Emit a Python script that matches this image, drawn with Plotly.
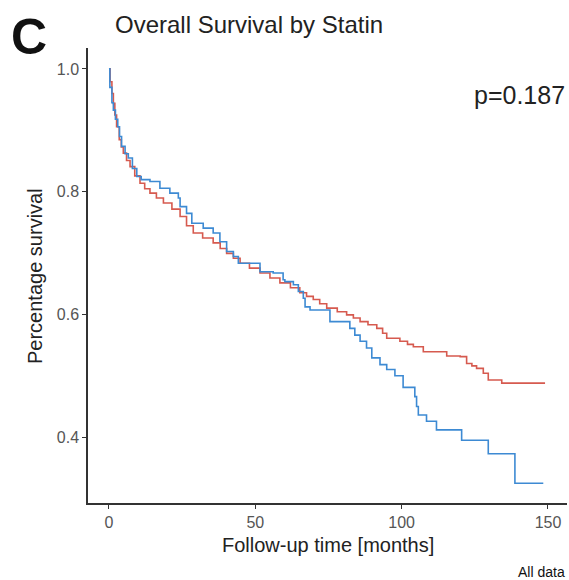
import plotly.graph_objects as go

# Kaplan-Meier estimates (time in months, survival)
red_time = [0, 0.4, 1.0, 1.5, 2.0, 2.6, 3.5, 4.2, 4.9, 6.0, 7.2, 8.8, 10.6, 12.2, 14.0,
            16.2, 18.6, 21.5, 24.3, 26.5, 28.8, 32.0, 35.6, 38.0, 40.2, 42.5, 44.8,
            48.0, 51.6, 55.0, 58.4, 62.0, 65.2, 67.5, 69.8, 72.0, 74.4, 78.0, 81.2,
            83.5, 85.8, 88.5, 91.5, 93.5, 94.9, 99.4, 102.0, 104.0, 107.4, 114.2,
            115.4, 120.0, 122.2, 124.0, 125.6, 127.9, 129.6, 134.2, 149.0]
red_surv = [1.0, 0.979, 0.960, 0.944, 0.925, 0.906, 0.885, 0.873, 0.863, 0.851, 0.841,
            0.826, 0.814, 0.805, 0.798, 0.790, 0.782, 0.772, 0.760, 0.745, 0.733,
            0.725, 0.717, 0.708, 0.700, 0.692, 0.684, 0.676, 0.668, 0.660, 0.652,
            0.644, 0.636, 0.630, 0.625, 0.618, 0.611, 0.605, 0.600, 0.595, 0.589,
            0.584, 0.578, 0.570, 0.562, 0.557, 0.552, 0.548, 0.540, 0.540, 0.533,
            0.532, 0.521, 0.517, 0.513, 0.505, 0.494, 0.489, 0.489]

blue_time = [0, 0.3, 1.0, 1.5, 2.2, 3.0, 3.6, 4.3, 5.5, 6.6, 8.0, 9.5, 11.0, 14.0,
             17.4, 20.8, 23.7, 24.3, 26.5, 28.3, 32.2, 35.6, 37.9, 40.2, 42.5, 44.2,
             51.6, 56.1, 59.5, 60.1, 63.0, 64.7, 66.4, 67.0, 68.7, 75.5, 82.3, 84.0,
             85.8, 88.0, 89.8, 92.6, 94.9, 97.7, 100.5, 104.5, 105.1, 105.7, 108.5,
             111.9, 120.5, 129.6, 138.7, 148.4]
blue_surv = [1.0, 0.970, 0.945, 0.933, 0.918, 0.906, 0.890, 0.874, 0.862, 0.855, 0.838,
             0.825, 0.820, 0.817, 0.806, 0.798, 0.790, 0.776, 0.765, 0.749, 0.741,
             0.733, 0.719, 0.703, 0.695, 0.684, 0.670, 0.668, 0.657, 0.654, 0.649,
             0.638, 0.627, 0.613, 0.608, 0.589, 0.578, 0.567, 0.557, 0.546, 0.530,
             0.519, 0.511, 0.501, 0.482, 0.467, 0.451, 0.437, 0.427, 0.413, 0.396,
             0.374, 0.326, 0.326]

x_ticks = [0, 50, 100, 150]
y_ticks = [0.4, 0.6, 0.8, 1.0]
y_tick_labels = ["0.4", "0.6", "0.8", "1.0"]

RED = "#D65A4F"
BLUE = "#3D8AD3"
FONT = "Liberation Sans, Arial, sans-serif"

fig = go.Figure()
fig.add_trace(go.Scatter(x=red_time, y=red_surv, mode="lines", line_shape="hv",
                         line=dict(color=RED, width=1.6), showlegend=False))
fig.add_trace(go.Scatter(x=blue_time, y=blue_surv, mode="lines", line_shape="hv",
                         line=dict(color=BLUE, width=1.6), showlegend=False))

fig.update_layout(
    width=569, height=580,
    margin=dict(l=88, r=2, t=48, b=77),
    paper_bgcolor="white", plot_bgcolor="white",
    font=dict(family=FONT, color="#222"),
    xaxis=dict(range=[-7.17, 156.5], tickvals=x_ticks, showgrid=False, zeroline=False,
               showline=True, linecolor="#333", linewidth=1.5, ticks="outside",
               ticklen=4, tickcolor="#333", tickwidth=1.2,
               tickfont=dict(size=16, color="#555", family=FONT)),
    yaxis=dict(range=[0.294, 1.034], tickvals=y_ticks, ticktext=y_tick_labels,
               showgrid=False, zeroline=False, showline=True, linecolor="#333",
               linewidth=1.5, ticks="outside", ticklen=4, tickcolor="#333",
               tickwidth=1.2, tickfont=dict(size=16, color="#555", family=FONT)),
    annotations=[
        dict(text="<b>C</b>", xref="paper", yref="paper", x=-0.165, y=1.024,
             xanchor="left", yanchor="middle", showarrow=False,
             font=dict(size=50, color="#111", family=FONT)),
        dict(text="Overall Survival by Statin", xref="paper", yref="paper",
             x=(113 - 88) / 479, y=(503 - 25) / 455, xanchor="left", yanchor="middle",
             showarrow=False, font=dict(size=24, color="#222", family=FONT)),
        dict(text="p=0.187", xref="paper", yref="paper", x=1.0, y=(503 - 95) / 455,
             xanchor="right", yanchor="middle", showarrow=False,
             font=dict(size=25, color="#222", family=FONT)),
        dict(text="Follow-up time [months]", xref="paper", yref="paper", x=0.5,
             y=(503 - 545) / 455, xanchor="center", yanchor="middle", showarrow=False,
             font=dict(size=20, color="#222", family=FONT)),
        dict(text="Percentage survival", xref="paper", yref="paper",
             x=(35 - 88) / 479, y=(503 - 276) / 455, xanchor="center", yanchor="middle",
             textangle=-90, showarrow=False, font=dict(size=20, color="#222", family=FONT)),
        dict(text="All data", xref="paper", yref="paper", x=1.0, y=(503 - 572) / 455,
             xanchor="right", yanchor="middle", showarrow=False,
             font=dict(size=14, color="#111", family=FONT)),
    ],
)

fig.write_html(
    "out.html",
    config={"displayModeBar": False},
    post_script="document.body.style.margin='0';document.body.style.overflow='hidden';",
)
